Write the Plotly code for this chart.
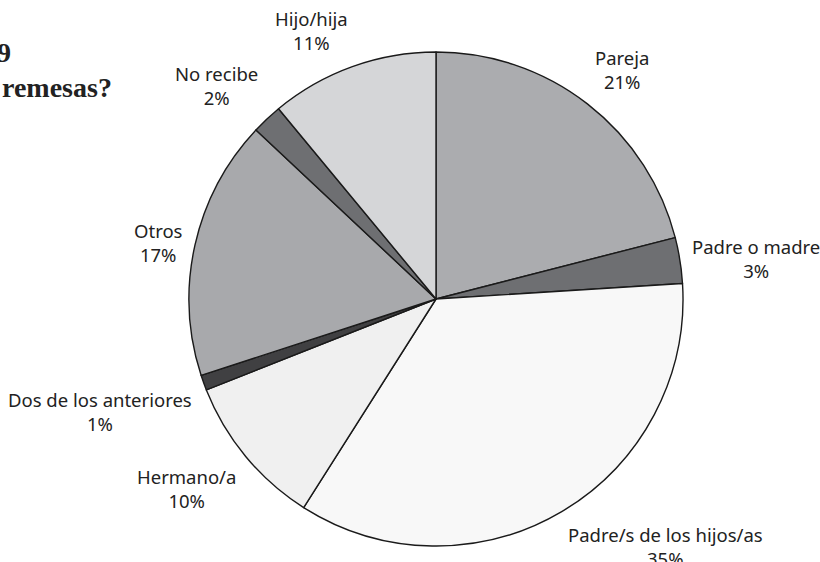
import math
import plotly.graph_objects as go

labels = ["Pareja", "Padre o madre", "Padre/s de los hijos/as", "Hermano/a",
          "Dos de los anteriores", "Otros", "No recibe", "Hijo/hija"]
values = [21, 3, 35, 10, 1, 17, 2, 11]
colors = ["#abacaf", "#6e6f72", "#f8f8f8", "#f0f0f0",
          "#404042", "#a8a9ac", "#6e6f72", "#d5d6d8"]

W, H = 820, 562
cx, cy, R = 436, 299, 247
GAP = 11
FONT = "Noto Sans, Lato, sans-serif"

fig = go.Figure(go.Pie(
    labels=labels, values=values, sort=False, direction="clockwise", rotation=0,
    marker=dict(colors=colors, line=dict(color="#1a1a1a", width=1.4)),
    textinfo="none", showlegend=False, hoverinfo="label+percent",
    domain=dict(x=[(cx - R) / W, (cx + R) / W], y=[(H - cy - R) / H, (H - cy + R) / H]),
))

# outside labels placed along each slice's mid-angle
total = sum(values)
cum = 0
for lab, v in zip(labels, values):
    mid = (cum + v / 2) / total * 2 * math.pi
    cum += v
    s, c = math.sin(mid), math.cos(mid)
    px = cx + (R + GAP) * s
    py = cy - (R + GAP) * c
    if abs(s) < 0.3:
        xa = "center"
    else:
        xa = "left" if s > 0 else "right"
    if abs(s) > 0.95:
        ya = "middle"
    else:
        ya = "bottom" if c > 0 else "top"
    fig.add_annotation(text=f"{lab}<br>{v}%", x=px / W, y=1 - py / H,
                       xref="paper", yref="paper", xanchor=xa, yanchor=ya,
                       align="center", showarrow=False, borderpad=0,
                       font=dict(family=FONT, size=18.5, color="#222"))

fig.add_annotation(text="<b>9</b>", x=12 / W, y=1 - 53 / H, xref="paper", yref="paper",
                   xanchor="right", yanchor="middle", showarrow=False, borderpad=0,
                   font=dict(family="Liberation Serif", size=28, color="#222"))
fig.add_annotation(text="<b>remesas?</b>", x=113 / W, y=1 - 88 / H, xref="paper", yref="paper",
                   xanchor="right", yanchor="middle", showarrow=False, borderpad=0,
                   font=dict(family="Liberation Serif", size=28, color="#222"))

fig.update_layout(width=W, height=H, margin=dict(l=0, r=0, t=0, b=0),
                  paper_bgcolor="white", plot_bgcolor="white")
fig.write_html("out.html", config={"displayModeBar": False},
               post_script="document.body.style.margin='0';")
